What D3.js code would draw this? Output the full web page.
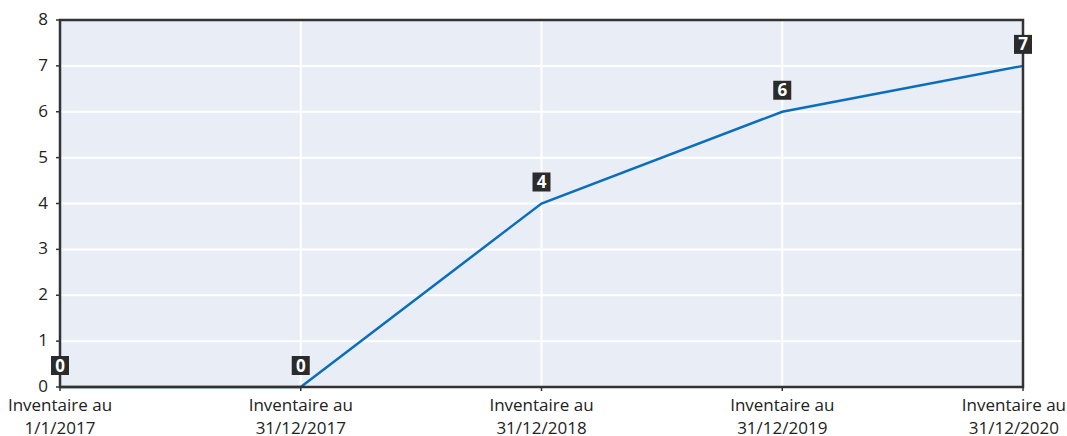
<!DOCTYPE html>
<html>
<head>
<meta charset="utf-8">
<script src="https://cdn.jsdelivr.net/npm/d3@7/dist/d3.min.js"></script>
<style>
  html, body { margin: 0; padding: 0; background: #fff; overflow: hidden; }
  svg { display: block; }
  svg text { font-family: "Open Sans", "Noto Sans", sans-serif; }
</style>
</head>
<body>
<svg id="chart" width="1067" height="436"></svg>
<script>
const categories = [
  ["Inventaire au", "1/1/2017"],
  ["Inventaire au", "31/12/2017"],
  ["Inventaire au", "31/12/2018"],
  ["Inventaire au", "31/12/2019"],
  ["Inventaire au", "31/12/2020"]
];
const values = [0, 0, 4, 6, 7];
const yTicks = [0, 1, 2, 3, 4, 5, 6, 7, 8];

const W = 1067;
const svg = d3.select("#chart");
const plotLeft = 60, plotRight = 1023, plotTop = 20, plotBottom = 387;

const x = d3.scalePoint().domain(d3.range(categories.length)).range([plotLeft, plotRight]);
const y = d3.scaleLinear().domain([0, 8]).range([plotBottom, plotTop]);

// plot background
svg.append("rect")
  .attr("x", plotLeft).attr("y", plotTop)
  .attr("width", plotRight - plotLeft).attr("height", plotBottom - plotTop)
  .attr("fill", "#e8edf6");

// gridlines
svg.append("g").selectAll("line").data(yTicks).join("line")
  .attr("x1", plotLeft).attr("x2", plotRight)
  .attr("y1", d => y(d)).attr("y2", d => y(d))
  .attr("stroke", "#fff").attr("stroke-width", 2);
svg.append("g").selectAll("line").data(d3.range(categories.length)).join("line")
  .attr("x1", d => x(d)).attr("x2", d => x(d))
  .attr("y1", plotTop).attr("y2", plotBottom)
  .attr("stroke", "#fff").attr("stroke-width", 2);

// series line
svg.append("path")
  .datum(values)
  .attr("fill", "none")
  .attr("stroke", "#0a6ebd")
  .attr("stroke-width", 2.5)
  .attr("d", d3.line().x((d, i) => x(i)).y(d => y(d)));

// frame
svg.append("rect")
  .attr("x", plotLeft).attr("y", plotTop)
  .attr("width", plotRight - plotLeft).attr("height", plotBottom - plotTop)
  .attr("fill", "none").attr("stroke", "#333").attr("stroke-width", 2.5);

// y axis ticks & labels
const yAxis = svg.append("g");
yAxis.selectAll("line").data(yTicks).join("line")
  .attr("x1", plotLeft - 4).attr("x2", plotLeft)
  .attr("y1", d => y(d)).attr("y2", d => y(d))
  .attr("stroke", "#333").attr("stroke-width", 1.5);
yAxis.selectAll("text").data(yTicks).join("text")
  .attr("x", 48).attr("y", d => y(d) + 5)
  .attr("text-anchor", "end")
  .attr("font-size", 17).attr("fill", "#222")
  .text(d => d);

// x axis ticks & labels (two lines, kept inside the canvas)
const xAxis = svg.append("g");
xAxis.selectAll("line").data(d3.range(categories.length)).join("line")
  .attr("x1", d => x(d)).attr("x2", d => x(d))
  .attr("y1", plotBottom).attr("y2", plotBottom + 4)
  .attr("stroke", "#333").attr("stroke-width", 1.5);
const xl = xAxis.selectAll("text").data(categories).join("text")
  .attr("text-anchor", "middle")
  .attr("font-size", 17).attr("fill", "#222");
xl.append("tspan").attr("x", (d, i) => x(i)).attr("y", 411).text(d => d[0]);
xl.append("tspan").attr("x", (d, i) => x(i)).attr("y", 434).text(d => d[1]);
xl.each(function(d, i) {
  const spans = d3.select(this).selectAll("tspan");
  let half = 0;
  spans.each(function() { half = Math.max(half, this.getComputedTextLength() / 2); });
  const cx = Math.max(half + 1, Math.min(W - half - 1, x(i)));
  spans.attr("x", cx);
});

// value labels
const lab = svg.append("g").selectAll("g").data(values).join("g")
  .attr("transform", (d, i) => `translate(${x(i)},${y(d) - 12})`);
lab.append("rect")
  .attr("x", -9).attr("y", -19).attr("width", 18).attr("height", 19)
  .attr("fill", "#2b2b2b");
lab.append("text")
  .attr("text-anchor", "middle").attr("y", -3.5)
  .attr("font-size", 17).attr("font-weight", "bold").attr("fill", "#fff")
  .text(d => d);
</script>
</body>
</html>
